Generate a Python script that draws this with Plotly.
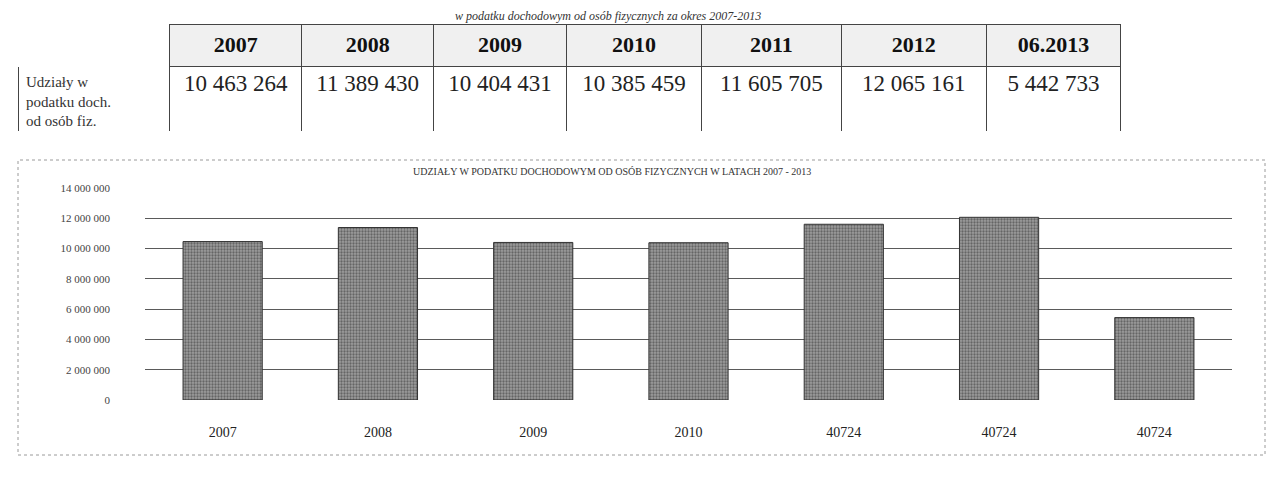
import plotly.graph_objects as go

# ---- data ----
table_years = ["2007", "2008", "2009", "2010", "2011", "2012", "06.2013"]
row_label = "Udziały w<br>podatku doch.<br>od osób fiz."
values = [10463264, 11389430, 10404431, 10385459, 11605705, 12065161, 5442733]
chart_x_labels = ["2007", "2008", "2009", "2010", "40724", "40724", "40724"]
y_ticks = [0, 2000000, 4000000, 6000000, 8000000, 10000000, 12000000, 14000000]

OFF = 8  # page body margin
W, H = 1274 - OFF, 495 - OFF
SERIF = "Liberation Serif, Times New Roman, serif"


def px_x(p):
    return (p - OFF) / W


def px_y(p):
    return 1 - (p - OFF) / H


def fmt(v):
    return f"{v:,}".replace(",", " ")


fig = go.Figure()

# ---- table ----
col_widths = [152, 132, 132, 133, 135, 140, 145, 135]
header_vals = [""] + [f"<b>{y}</b>" for y in table_years]
cell_vals = [[row_label]] + [[fmt(v)] for v in values]
fig.add_trace(go.Table(
    domain=dict(x=[px_x(18), px_x(18 + sum(col_widths))], y=[px_y(132), px_y(24)]),
    columnwidth=col_widths,
    header=dict(
        values=header_vals,
        height=42,
        fill=dict(color=["white"] + ["#f0f0f0"] * len(table_years)),
        line=dict(color=["white"] + ["#444"] * len(table_years), width=1),
        font=dict(family=SERIF, size=22, color="#111"),
        align="center",
    ),
    cells=dict(
        values=cell_vals,
        height=62,
        fill=dict(color="white"),
        line=dict(color="#444", width=1),
        font=dict(family=SERIF, size=[15] + [23] * len(values), color=["#333"] + ["#222"] * len(values)),
        align=["left"] + ["center"] * len(values),
    ),
))

# ---- bar chart ----
xs = list(range(len(values)))
fig.add_trace(go.Bar(
    x=xs,
    y=values,
    width=0.51,
    marker=dict(
        color="#8a8a8a",
        line=dict(color="#333", width=1),
        pattern=dict(shape=".", fgcolor="#2e2e2e", bgcolor="#9c9c9c", size=3, solidity=0.45),
    ),
    showlegend=False,
    hoverinfo="skip",
))

fig.update_layout(
    width=W,
    height=H,
    margin=dict(l=0, r=0, t=0, b=0, autoexpand=False),
    paper_bgcolor="white",
    plot_bgcolor="white",
    separators=", ",
    showlegend=False,
    xaxis=dict(
        domain=[px_x(145), px_x(1232)],
        range=[-0.5, len(values) - 0.5],
        tickmode="array",
        tickvals=xs,
        ticktext=chart_x_labels,
        showgrid=False,
        showline=False,
        ticks="",
        tickfont=dict(family=SERIF, size=14, color="#222"),
        ticklabelstandoff=22,
        automargin=False,
    ),
    yaxis=dict(
        domain=[px_y(400), px_y(188)],
        range=[0, 14000000],
        tickmode="array",
        tickvals=y_ticks,
        tickformat=",d",
        showgrid=True,
        gridcolor="#5a5a5a",
        gridwidth=1,
        zeroline=False,
        showline=False,
        ticks="",
        tickfont=dict(family=SERIF, size=11, color="#444"),
        ticklabelstandoff=34,
        automargin=False,
    ),
)

# chart title
fig.add_annotation(
    text="UDZIAŁY W PODATKU DOCHODOWYM OD OSÓB FIZYCZNYCH W LATACH 2007 - 2013",
    xref="paper", yref="paper", x=px_x(612), y=px_y(171),
    xanchor="center", yanchor="middle", showarrow=False,
    font=dict(family=SERIF, size=10, color="#333"),
)

# page caption
fig.add_annotation(
    text="<i>w podatku dochodowym od osób fizycznych za okres 2007-2013</i>",
    xref="paper", yref="paper", x=px_x(762), y=1,
    xanchor="right", yanchor="top", showarrow=False,
    font=dict(family=SERIF, size=12, color="#333"),
    borderpad=0,
)

# chart frame (scanned dotted border)
fig.add_shape(
    type="rect", xref="paper", yref="paper",
    x0=px_x(18), x1=px_x(1265), y0=px_y(455), y1=px_y(160),
    line=dict(color="#9a9a9a", width=1, dash="dot"),
)

fig.write_html("out.html")
